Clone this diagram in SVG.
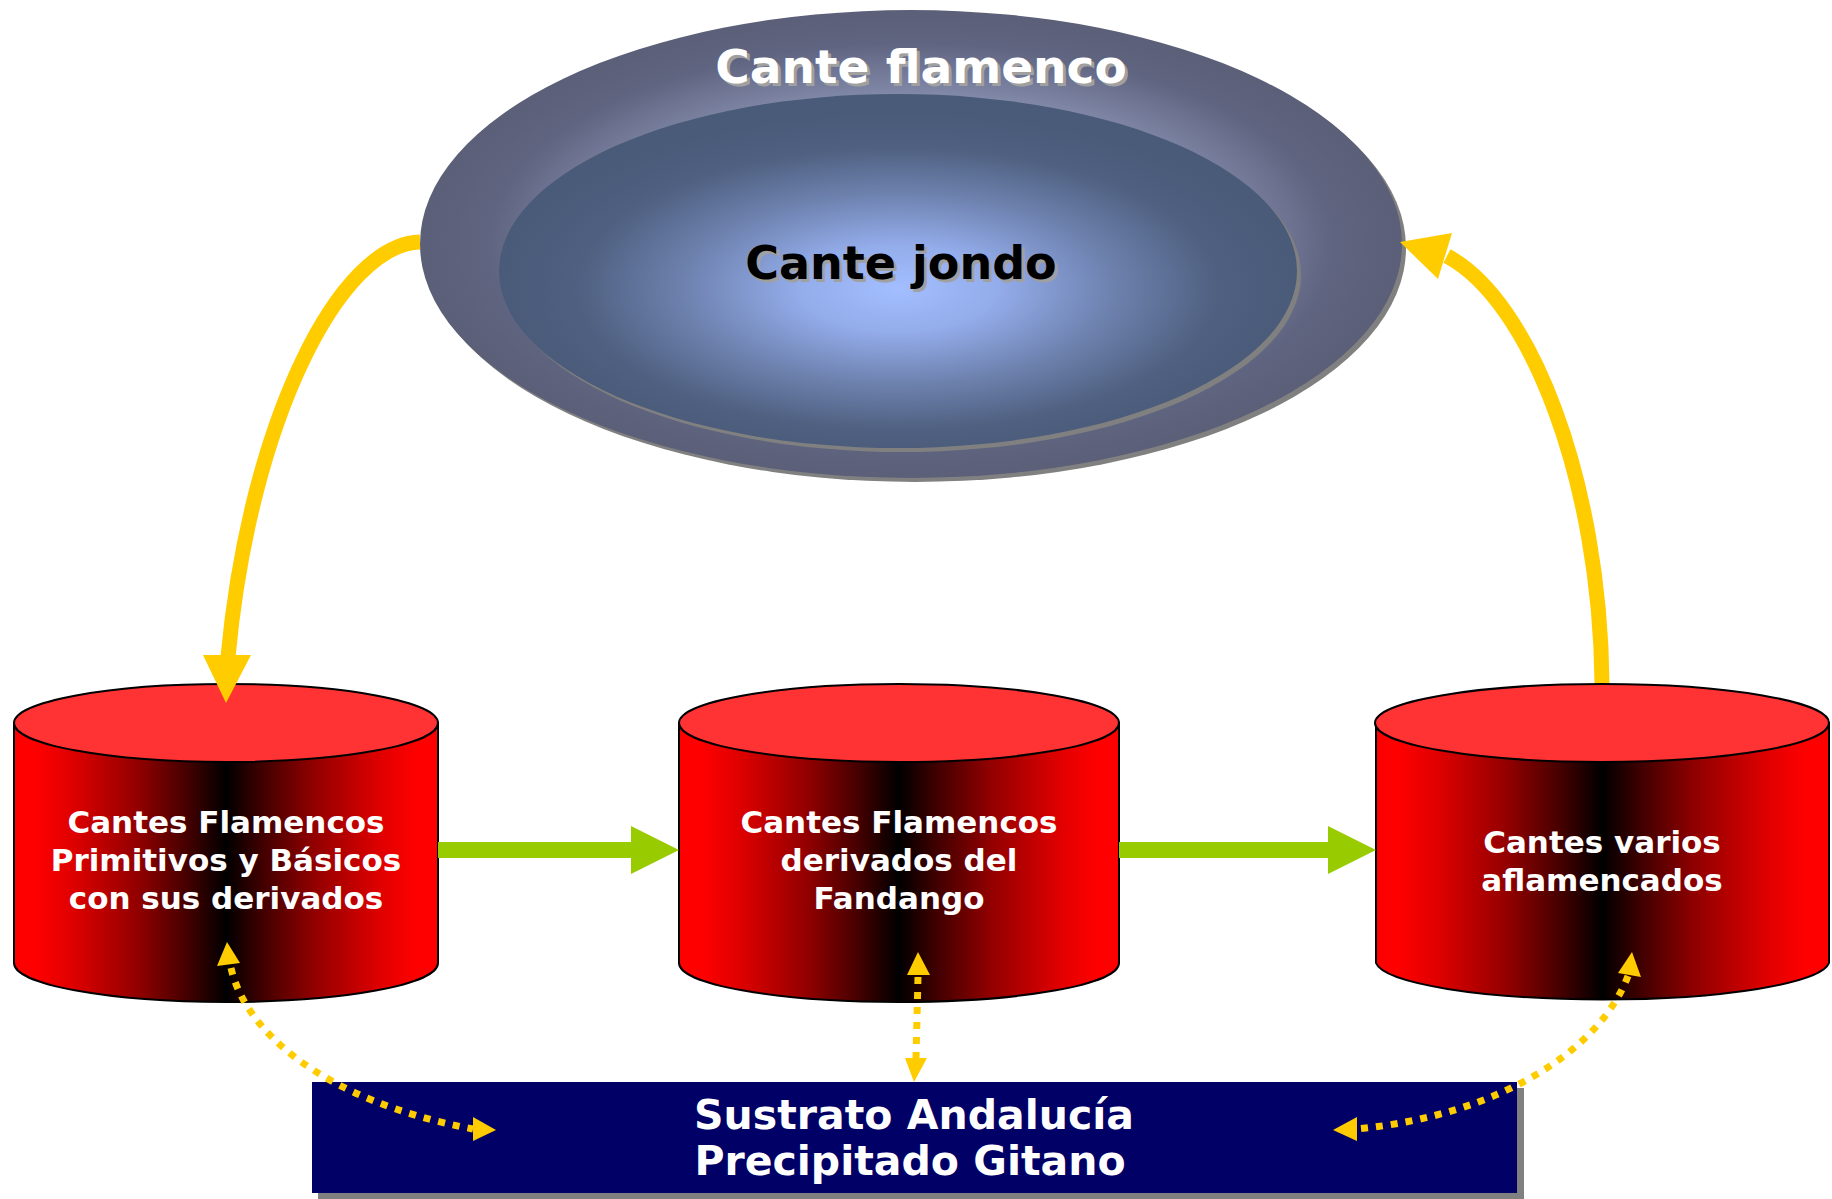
<svg xmlns="http://www.w3.org/2000/svg" width="1832" height="1199" viewBox="0 0 1832 1199">
<defs>
<radialGradient id="gOuter" cx="0.5" cy="0.5" r="0.5">
<stop offset="0" stop-color="#C4CCF2"/>
<stop offset="0.6" stop-color="#8890B0"/>
<stop offset="0.86" stop-color="#5F6480"/>
<stop offset="1" stop-color="#5B5F78"/>
</radialGradient>
<radialGradient id="gInner" cx="0.5" cy="0.55" r="0.5">
<stop offset="0" stop-color="#A3BEFF"/>
<stop offset="0.25" stop-color="#93ACEA"/>
<stop offset="0.55" stop-color="#6C80AC"/>
<stop offset="0.8" stop-color="#4F6080"/>
<stop offset="1" stop-color="#4A5A79"/>
</radialGradient>
<linearGradient id="gCyl" x1="0" y1="0" x2="1" y2="0">
<stop offset="0" stop-color="#ff0000"/>
<stop offset="0.05" stop-color="#ff0000"/>
<stop offset="0.135" stop-color="#e00000"/>
<stop offset="0.295" stop-color="#900000"/>
<stop offset="0.415" stop-color="#400000"/>
<stop offset="0.5" stop-color="#000000"/>
<stop offset="0.585" stop-color="#400000"/>
<stop offset="0.705" stop-color="#900000"/>
<stop offset="0.865" stop-color="#e00000"/>
<stop offset="0.95" stop-color="#ff0000"/>
<stop offset="1" stop-color="#ff0000"/>
</linearGradient>
<style>
.body{fill:url(#gCyl);stroke:#000;stroke-width:2}
.top{fill:#FF3333;stroke:#000;stroke-width:2}
.lbl{font-family:"DejaVu Sans",Verdana,sans-serif;font-weight:bold;fill:#fff;text-anchor:middle}
.cyl{font-size:31px}
.big{font-size:47px}
.jondo{font-size:46px}
.box{font-size:41px}
.shadow{fill:#A0A0A0}
.dark{fill:#000}
.solid{fill:none;stroke:#FFCC00;stroke-width:15}
.dot{fill:none;stroke:#FFCC00;stroke-width:7;stroke-dasharray:7 8}
.head{fill:#FFCC00}
.green{fill:#99CC00}
</style>
</defs>
<rect width="1832" height="1199" fill="#fff"/>

<g id="node-cante-flamenco">
<ellipse cx="915" cy="248" rx="491" ry="234" fill="#808080"/>
<ellipse cx="911" cy="244" rx="491" ry="234" fill="url(#gOuter)"/>
<text class="lbl big shadow" x="924" y="86">Cante flamenco</text>
<text class="lbl big" x="921" y="83">Cante flamenco</text>
</g>

<g id="node-cante-jondo">
<ellipse cx="902" cy="275" rx="399" ry="177" fill="#808080"/>
<ellipse cx="898" cy="271" rx="399" ry="177" fill="url(#gInner)"/>
<text class="lbl jondo shadow" x="904" y="282">Cante jondo</text>
<text class="lbl jondo dark" x="901" y="279">Cante jondo</text>
</g>

<g id="node-primitivos">
<path class="body" d="M14,723 V963 A212,39 0 0 0 438,963 V723 Z"/>
<ellipse class="top" cx="226" cy="723" rx="212" ry="39"/>
<text class="lbl cyl" x="226" y="833">Cantes Flamencos</text>
<text class="lbl cyl" x="226" y="871">Primitivos y Básicos</text>
<text class="lbl cyl" x="226" y="909">con sus derivados</text>
</g>

<g id="node-fandango">
<path class="body" d="M679,723 V963 A220,39 0 0 0 1119,963 V723 Z"/>
<ellipse class="top" cx="899" cy="723" rx="220" ry="39"/>
<text class="lbl cyl" x="899" y="833">Cantes Flamencos</text>
<text class="lbl cyl" x="899" y="871">derivados del</text>
<text class="lbl cyl" x="899" y="909">Fandango</text>
</g>

<g id="node-varios">
<path class="body" d="M1376,723 V963 A227,39 0 0 0 1829,963 V723 Z"/>
<ellipse class="top" cx="1602" cy="723" rx="227" ry="39"/>
<text class="lbl cyl" x="1602" y="853">Cantes varios</text>
<text class="lbl cyl" x="1602" y="891">aflamencados</text>
</g>

<g id="node-sustrato">
<rect x="318" y="1088" width="1206" height="111" fill="#808080"/>
<rect x="312" y="1082" width="1205" height="111" fill="#000066"/>
<text class="lbl box" x="914" y="1129">Sustrato Andalucía</text>
<text class="lbl box" x="910" y="1175">Precipitado Gitano</text>
</g>

<g id="connectors">
<path class="solid" d="M420,242 C340,244 250,420 228,657"/>
<polygon class="head" points="203,655 251,655 226,703"/>
<path class="solid" d="M1602,683 C1600,480 1530,300 1447,256"/>
<polygon class="head" points="1452,233 1438,279 1400,242"/>

<rect class="green" x="438" y="842" width="194" height="16"/>
<polygon class="green" points="631,826 679,850 631,874"/>
<rect class="green" x="1119" y="842" width="210" height="16"/>
<polygon class="green" points="1328,826 1376,850 1328,874"/>

<path class="dot" d="M231,968 C245,1030 320,1100 473,1129"/>
<polygon class="head" points="227,942 217,966 240,963"/>
<polygon class="head" points="473,1117 473,1141 496,1130"/>

<path class="dot" d="M918,977 L916,1058"/>
<polygon class="head" points="918,952 907,975 930,975"/>
<polygon class="head" points="914,1082 905,1058 927,1058"/>

<path class="dot" d="M1628,976 C1600,1050 1500,1115 1357,1129"/>
<polygon class="head" points="1632,952 1618,973 1641,977"/>
<polygon class="head" points="1357,1117 1357,1141 1333,1130"/>
</g>
</svg>
